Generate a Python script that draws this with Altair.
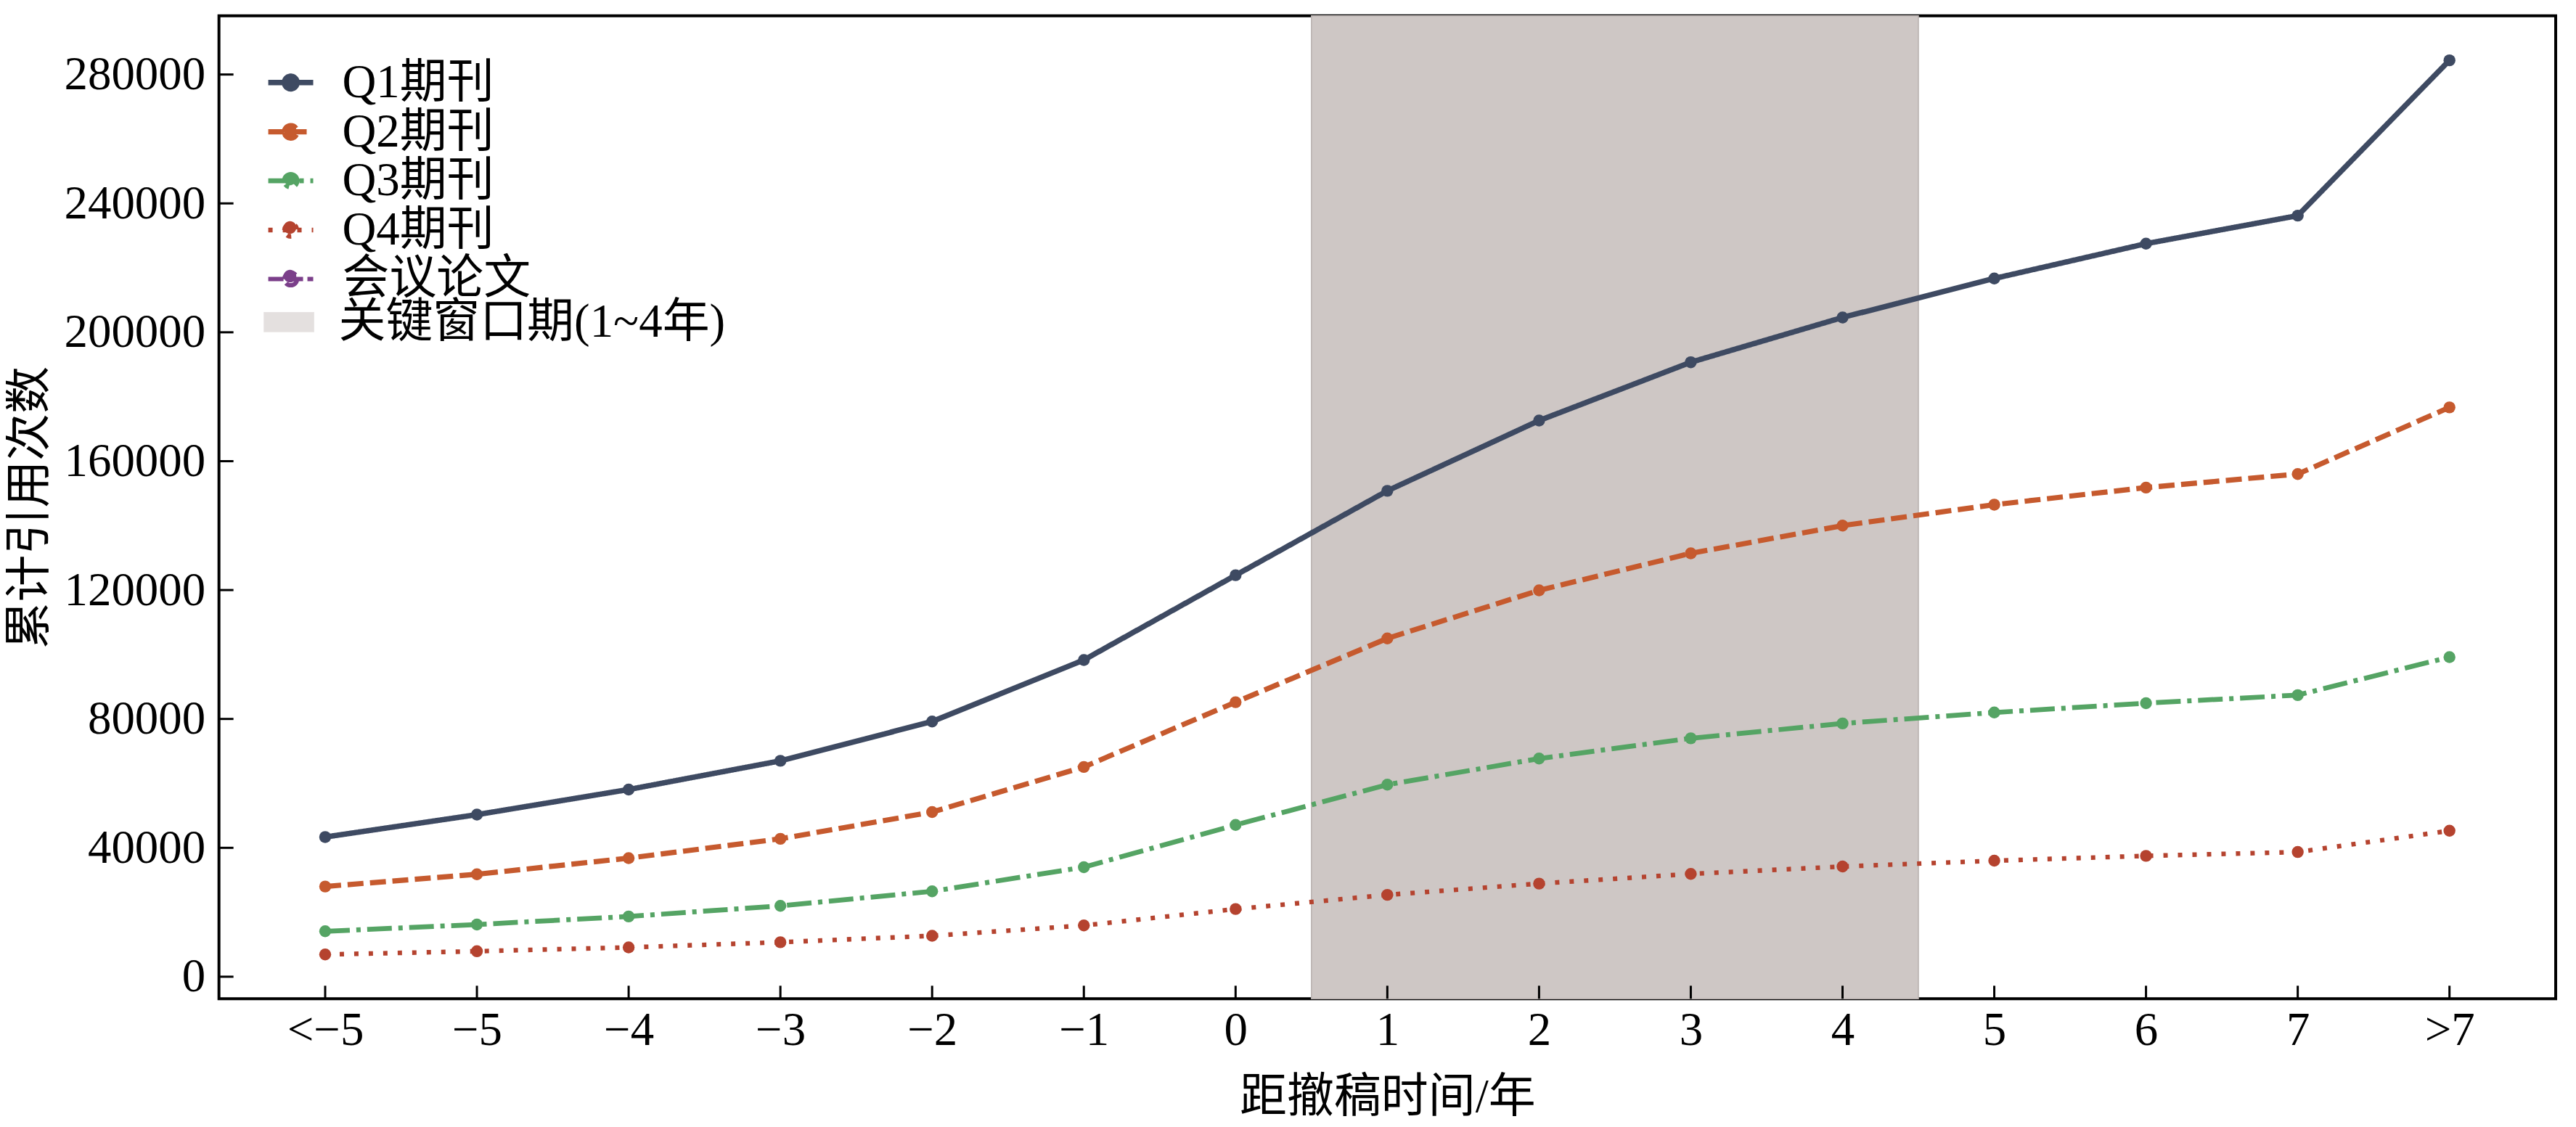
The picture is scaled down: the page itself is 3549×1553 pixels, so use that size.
import json
import altair as alt
import pandas as pd

categories = ["<−5", "−5", "−4", "−3", "−2", "−1", "0", "1", "2", "3", "4", "5", "6", "7", ">7"]
series_names = ["Q1期刊", "Q2期刊", "Q3期刊", "Q4期刊", "会议论文"]
q1 = [43350, 50300, 58100, 67000, 79200, 98300, 124600, 150800, 172600, 190700, 204600, 216700, 227500, 236200, 284400]
q2 = [28000, 31800, 36800, 42800, 51100, 65100, 85200, 105000, 119900, 131400, 140000, 146500, 151800, 156000, 176700]
q3 = [14100, 16200, 18700, 22000, 26500, 34000, 47100, 59600, 67700, 74000, 78600, 82000, 84900, 87400, 99200]
q4 = [6900, 7900, 9100, 10700, 12700, 15900, 21000, 25400, 28900, 31900, 34200, 36000, 37500, 38700, 45300]
conference = []  # no plotted values, legend entry only
y_ticks = [0, 40000, 80000, 120000, 160000, 200000, 240000, 280000]
window_label = "关键窗口期(1~4年)"
window_start, window_end = 6.5, 10.5  # between "0"/"1" and "4"/"5"

colors = ["#3e4a62", "#c65a2e", "#55a464", "#b5432f", "#7b3f8a"]
dashes = [[1, 0], [22, 9], [34, 9, 6, 9], [6, 14], [21, 6]]
widths = [7.5, 6, 6, 6, 6]

rows = []
for name, vals in zip(series_names, [q1, q2, q3, q4, conference]):
    for i, v in enumerate(vals):
        rows.append({"series": name, "idx": i, "value": v})
df = pd.DataFrame(rows)

W, H = 3223, 1356
FONT = "Liberation Serif, Noto Sans CJK SC"
FS = 65

label_expr = json.dumps(categories, ensure_ascii=False) + "[datum.value]"

xscale = alt.Scale(domain=[-0.7, 14.7], nice=False, zero=False)
yscale = alt.Scale(domain=[-6850, 298200], nice=False, zero=False)

xaxis = alt.Axis(values=list(range(len(categories))), labelExpr=label_expr, title="距撤稿时间/年",
                 grid=False, domain=False, ticks=False, tickSize=0, labelPadding=12, titlePadding=28,
                 labelFont=FONT, labelFontSize=FS, titleFont=FONT, titleFontSize=FS, labelLimit=0,
                 titleFontWeight="normal", labelColor="#000", titleColor="#000", labelFlush=False)
yaxis = alt.Axis(values=y_ticks, format="d", title="累计引用次数", grid=False, domain=False,
                 ticks=False, tickSize=0, labelPadding=19, titlePadding=27, labelLimit=0,
                 labelFont=FONT, labelFontSize=FS, titleFont=FONT, titleFontSize=FS,
                 titleFontWeight="normal", labelColor="#000", titleColor="#000")

line_symbol = "M-1,0L1,0M-0.28,0A0.28,0.28,0,1,1,0.28,0A0.28,0.28,0,1,1,-0.28,0Z"
rect_symbol = "M-1.1,-0.42L1.1,-0.42L1.1,0.42L-1.1,0.42Z"
SYM = 3844  # 62 px wide legend handles


def series_legend(label_opacity=1):
    return alt.Legend(
        title=None, orient="none", legendX=64, legendY=57, padding=0,
        symbolType=line_symbol, symbolSize=SYM, labelFont=FONT, labelFontSize=FS,
        labelColor="#000", labelOffset=36, rowPadding=-3, labelBaseline="middle",
        symbolStrokeWidth=6, symbolOpacity=1, labelLimit=0, labelOpacity=label_opacity,
    )


color_enc = alt.Color("series:N", scale=alt.Scale(domain=series_names, range=colors), legend=series_legend())
dash_enc = alt.StrokeDash("series:N", scale=alt.Scale(domain=series_names, range=dashes), legend=series_legend())
width_enc = alt.StrokeWidth("series:N", scale=alt.Scale(domain=series_names, range=widths), legend=series_legend())
fill_enc = alt.Fill("series:N", scale=alt.Scale(domain=series_names, range=colors), legend=series_legend(0))

base = alt.Chart(df)

window_df = pd.DataFrame({"start": [window_start], "end": [window_end], "label": [window_label]})
window = alt.Chart(window_df).mark_rect(stroke="#b9b1af", strokeWidth=1.5).encode(
    x=alt.X("start:Q", scale=xscale, axis=xaxis),
    x2="end:Q",
    y=alt.value(0),
    y2=alt.value(H),
    fill=alt.Fill("label:N", scale=alt.Scale(domain=[window_label], range=["#cec7c5"]),
                  legend=alt.Legend(title=None, orient="none", legendX=64, legendY=390, padding=0,
                                    symbolType=rect_symbol, symbolSize=SYM, labelFont=FONT,
                                    labelFontSize=FS, labelColor="#000", labelOffset=36,
                                    labelBaseline="middle", symbolStrokeColor="#d2cbc9",
                                    symbolStrokeWidth=1.5, symbolOpacity=0.55, labelLimit=0)),
)

lines = base.mark_line().encode(
    x=alt.X("idx:Q", scale=xscale, axis=xaxis),
    y=alt.Y("value:Q", scale=yscale, axis=yaxis),
    color=color_enc,
    strokeDash=dash_enc,
    strokeWidth=width_enc,
    detail="series:N",
)

points = base.mark_circle(size=270, opacity=1).encode(
    x=alt.X("idx:Q", scale=xscale),
    y=alt.Y("value:Q", scale=yscale),
    fill=fill_enc,
)

ytick_df = pd.DataFrame({"v": y_ticks})
yticks = alt.Chart(ytick_df).mark_rule(color="#000", strokeWidth=3).encode(
    y=alt.Y("v:Q", scale=yscale), x=alt.value(0), x2=alt.value(20))

xtick_df = pd.DataFrame({"i": list(range(len(categories)))})
xticks = alt.Chart(xtick_df).mark_rule(color="#000", strokeWidth=3).encode(
    x=alt.X("i:Q", scale=xscale), y=alt.value(H), y2=alt.value(H - 18))

chart = alt.layer(window, lines, points, yticks, xticks).resolve_scale(fill="independent").properties(
    width=W, height=H,
    background="white",
    autosize=alt.AutoSizeParams(type="none"),
    padding={"left": 294, "top": 13, "right": 20, "bottom": 170},
).configure_view(stroke="#000", strokeWidth=4)

chart.save("out.html", embed_options={"renderer": "svg", "actions": False})
